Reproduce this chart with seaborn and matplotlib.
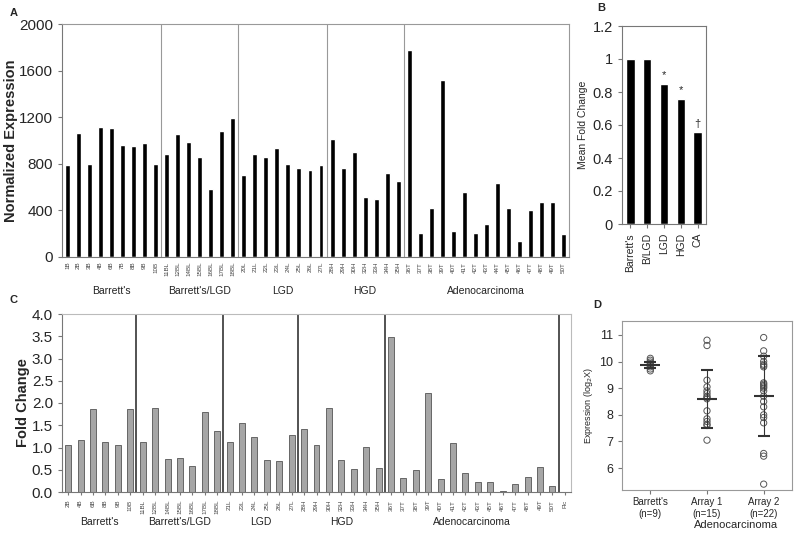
import matplotlib
matplotlib.use("Agg")
import matplotlib.pyplot as plt
import matplotlib.transforms as mtransforms
import seaborn as sns
import pandas as pd
import numpy as np

# Panel A: normalized expression per sample
a_groups = ["Barrett's", "Barrett's/LGD", "LGD", "HGD", "Adenocarcinoma"]
a_samples = [
    ["1B", "2B", "3B", "4B", "6B", "7B", "8B", "9B", "10B"],
    ["11BL", "12BL", "14BL", "15BL", "16BL", "17BL", "18BL"],
    ["20L", "21L", "22L", "23L", "24L", "25L", "26L", "27L"],
    ["28H", "29H", "30H", "32H", "33H", "34H", "35H"],
    ["36T", "37T", "38T", "39T", "40T", "41T", "42T", "43T", "44T", "45T",
     "46T", "47T", "48T", "49T", "50T"],
]
a_values = [
    [790, 1065, 800, 1120, 1105, 965, 950, 980, 800],
    [885, 1060, 985, 855, 580, 1080, 1190],
    [700, 885, 855, 935, 800, 760, 750, 790],
    [1010, 765, 905, 515, 495, 725, 650],
    [1780, 210, 418, 1520, 223, 562, 202, 286, 638, 418, 140, 406, 475, 475, 197],
]

# Panel B: mean fold change
b_groups = ["Barrett's", "B/LGD", "LGD", "HGD", "CA"]
b_values = [1.0, 1.0, 0.85, 0.76, 0.555]
b_marks = ["", "", "*", "*", "\u2020"]

# Panel C: fold change per sample
c_samples = [
    ["2B", "4B", "6B", "8B", "9B", "10B"],
    ["11BL", "12BL", "14BL", "15BL", "16BL", "17BL", "18BL"],
    ["21L", "23L", "24L", "25L", "26L", "27L"],
    ["28H", "29H", "30H", "32H", "33H", "34H", "35H"],
    ["36T", "37T", "38T", "39T", "40T", "41T", "42T", "43T", "45T", "46T",
     "47T", "48T", "49T", "50T"],
]
c_values = [
    [1.05, 1.17, 1.86, 1.13, 1.05, 1.86],
    [1.13, 1.89, 0.74, 0.77, 0.59, 1.80, 1.38],
    [1.13, 1.55, 1.24, 0.73, 0.69, 1.28],
    [1.41, 1.05, 1.89, 0.73, 0.52, 1.02, 0.53],
    [3.48, 0.31, 0.49, 2.23, 0.29, 1.09, 0.42, 0.23, 0.22, 0.03, 0.17, 0.33, 0.57, 0.13],
]
c_extra = "Flc"

# Panel D: log2 expression
d_labels = ["Barrett's\n(n=9)", "Array 1\n(n=15)", "Array 2\n(n=22)"]
d_barrett = [10.12, 10.05, 9.98, 9.92, 9.88, 9.85, 9.8, 9.72, 9.65]
d_array1 = [10.8, 10.6, 9.3, 9.05, 8.9, 8.8, 8.7, 8.65, 8.6, 8.15, 7.85, 7.75, 7.65, 7.6, 7.05]
d_array2 = [10.9, 10.4, 10.2, 10.0, 9.9, 9.85, 9.8, 9.2, 9.15, 9.1, 9.05, 9.0, 8.9, 8.7,
            8.5, 8.3, 8.0, 7.9, 7.7, 6.55, 6.45, 5.4]
d_means = [9.87, 8.6, 8.7]
d_sds = [0.12, 1.1, 1.5]

sns.set_style("ticks")
plt.rcParams["font.family"] = ["Liberation Sans", "DejaVu Sans"]

W, H = 800, 535
fig = plt.figure(figsize=(8, 5.35), dpi=100)


def rect(x0, y0, x1, y1):
    return [x0 / W, 1 - y1 / H, (x1 - x0) / W, (y1 - y0) / H]


def frame(ax, color="#999999"):
    for s in ["top", "right"]:
        ax.spines[s].set_visible(True)
        ax.spines[s].set_color(color)
        ax.spines[s].set_linewidth(0.8)
    for s in ["left", "bottom"]:
        ax.spines[s].set_color("#777777")
        ax.spines[s].set_linewidth(0.8)


def group_labels(ax, groups, sizes, y, fs):
    trans = mtransforms.blended_transform_factory(ax.transData, ax.transAxes)
    start = 0
    for g, n in zip(groups, sizes):
        ax.text(start + (n - 1) / 2, y, g, transform=trans, ha="center",
                va="center", fontsize=fs, color="#222222")
        start += n


# ---- A ----
axA = fig.add_axes(rect(62, 24, 569, 257))
dfA = pd.DataFrame({"sample": sum(a_samples, []), "value": sum(a_values, [])})
sns.barplot(data=dfA, x="sample", y="value", color="black", width=0.45,
            saturation=1, ax=axA)
axA.set_ylim(0, 2000)
axA.set_xlim(-0.5, len(dfA) - 0.5)
axA.set_yticks(range(0, 2001, 400))
axA.tick_params(axis="y", labelsize=11, length=3, color="#777777")
axA.tick_params(axis="x", labelsize=4.5, rotation=90, length=0, labelcolor="#444444")
axA.set_xlabel("")
axA.set_ylabel("Normalized Expression", fontsize=10.5, fontweight="bold", labelpad=1)
frame(axA)
pos = -0.5
for grp in a_samples[:-1]:
    pos += len(grp)
    axA.axvline(pos, color="#999999", lw=0.8)
group_labels(axA, a_groups, [len(s) for s in a_samples], -0.145, 7.5)
fig.text(10 / W, 1 - 13 / H, "A", fontsize=8, fontweight="bold", va="center")

# ---- B ----
axB = fig.add_axes(rect(622, 26, 706, 224))
dfB = pd.DataFrame({"group": b_groups, "value": b_values})
sns.barplot(data=dfB, x="group", y="value", color="black", width=0.5,
            saturation=1, ax=axB)
axB.set_ylim(0, 1.2)
axB.set_yticks([0, 0.2, 0.4, 0.6, 0.8, 1.0, 1.2])
axB.set_yticklabels(["0", "0.2", "0.4", "0.6", "0.8", "1", "1.2"])
axB.tick_params(axis="y", labelsize=10.5, length=3, color="#777777")
axB.tick_params(axis="x", labelsize=7.5, rotation=90, length=3, color="#777777")
axB.set_xlabel("")
axB.set_ylabel("Mean Fold Change", fontsize=7.5, labelpad=3)
frame(axB, "#777777")
for i, (v, m) in enumerate(zip(b_values, b_marks)):
    if m:
        axB.text(i, v + 0.02, m, ha="center", va="bottom", fontsize=8)
fig.text(597 / W, 1 - 8 / H, "B", fontsize=8, fontweight="bold", va="center")

# ---- C ----
axC = fig.add_axes(rect(62, 314, 571, 492))
names_c = sum(c_samples, []) + [c_extra]
vals_c = sum(c_values, []) + [np.nan]
dfC = pd.DataFrame({"sample": names_c, "value": vals_c})
sns.barplot(data=dfC, x="sample", y="value", color="#a6a6a6", width=0.48,
            saturation=1, edgecolor="#555555", linewidth=0.6, ax=axC)
axC.set_ylim(0, 4.0)
axC.set_xlim(-0.5, len(dfC) - 0.5)
axC.set_yticks(np.arange(0, 4.01, 0.5))
axC.set_yticklabels([f"{t:.1f}" for t in np.arange(0, 4.01, 0.5)])
axC.tick_params(axis="y", labelsize=11, length=3, color="#777777")
axC.tick_params(axis="x", labelsize=4.5, rotation=90, length=2, color="#777777",
                labelcolor="#444444")
axC.set_xlabel("")
axC.set_ylabel("Fold Change", fontsize=10.5, fontweight="bold", labelpad=1)
frame(axC, "#bbbbbb")
pos = -0.5
for grp in c_samples:
    pos += len(grp)
    axC.axvline(pos, color="#444444", lw=1.3)
group_labels(axC, a_groups, [len(s) for s in c_samples], -0.17, 7.5)
fig.text(10 / W, 1 - 300 / H, "C", fontsize=8, fontweight="bold", va="center")

# ---- D ----
axD = fig.add_axes(rect(622, 321, 792, 490))
dfD = pd.DataFrame({
    "group": [d_labels[0]] * len(d_barrett) + [d_labels[1]] * len(d_array1)
             + [d_labels[2]] * len(d_array2),
    "value": d_barrett + d_array1 + d_array2,
})
sns.stripplot(data=dfD, x="group", y="value", jitter=False, size=4.5,
              color="white", edgecolor="#555555", linewidth=0.7, ax=axD)
for coll in axD.collections:
    coll.set_facecolor("none")
axD.errorbar(range(len(d_means)), d_means, yerr=d_sds, fmt="_", color="#333333",
             markersize=14, mew=1.5, elinewidth=0.8, capsize=4, capthick=0.8,
             zorder=5)
axD.set_xlim(-0.5, 2.5)
axD.set_ylim(5.18, 11.52)
axD.set_yticks([6, 7, 8, 9, 10, 11])
axD.tick_params(axis="y", labelsize=9, length=3, color="#777777")
axD.tick_params(axis="x", labelsize=7, length=3, color="#777777", pad=2)
axD.set_xlabel("Adenocarcinoma", fontsize=8)
axD.xaxis.set_label_coords(0.67, -0.175)
axD.set_ylabel("Expression (log$_2$X)", fontsize=6.5, labelpad=3)
for s in axD.spines.values():
    s.set_visible(True)
    s.set_color("#999999")
    s.set_linewidth(0.8)
fig.text(593 / W, 1 - 305 / H, "D", fontsize=8, fontweight="bold", va="center")

fig.savefig("out.png", dpi=100, facecolor="white")
